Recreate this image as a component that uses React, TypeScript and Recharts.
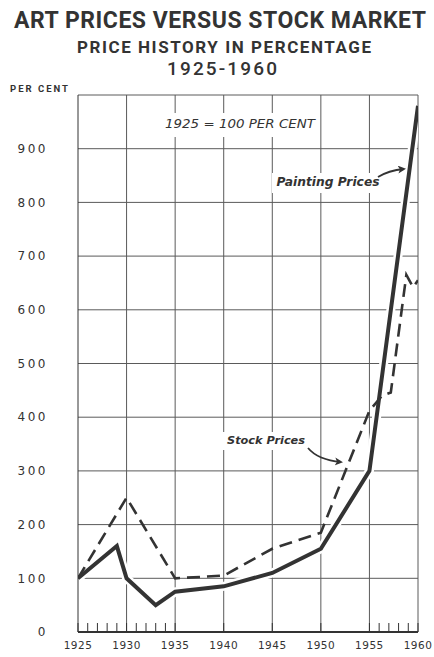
import { CartesianGrid, Line, LineChart, ReferenceLine, XAxis, YAxis } from 'recharts'

const paintingYears = [1925, 1929, 1930, 1933, 1935, 1940, 1945, 1950, 1955, 1960]
const paintingValues = [100, 160, 100, 50, 75, 85, 110, 155, 300, 980]

const stockYears = [1925, 1930, 1935, 1940, 1945, 1950, 1955, 1956.3, 1957.2, 1958.8, 1959.5, 1960]
const stockValues = [100, 250, 100, 105, 155, 185, 412, 440, 446, 665, 642, 655]

const yTicks = [0, 100, 200, 300, 400, 500, 600, 700, 800, 900, 1000]
const xTicks = [
  1925, 1926, 1927, 1928, 1929, 1930, 1931, 1932, 1933, 1934, 1935, 1940, 1945, 1950, 1955, 1956, 1957,
  1958, 1959, 1960,
]
const gridYears = [1930, 1935, 1940, 1945, 1950, 1955, 1960]

const INK = '#333'
const GRID = '#5a5a5a'
const FONT = '"DejaVu Sans", sans-serif'
const TITLE_FONT = 'Roboto, "DejaVu Sans", sans-serif'

const paintingData = paintingYears.map((year, i) => ({ year, value: paintingValues[i] }))
const stockData = stockYears.map((year, i) => ({ year, value: stockValues[i] }))

function Overlay() {
  return (
    <svg
      width={434}
      height={657}
      style={{ position: 'absolute', left: 0, top: 0, pointerEvents: 'none' }}
    >
      <defs>
        <marker id="head" markerWidth="8" markerHeight="8" refX="6" refY="4" orient="auto" markerUnits="userSpaceOnUse">
          <path d="M0,0 L8,4 L0,8 L2,4 Z" fill={INK} />
        </marker>
      </defs>
      <g fontFamily={TITLE_FONT} fill={INK} fontWeight="bold" textAnchor="middle">
        <text x={220} y={28} fontSize={23} textLength={412} lengthAdjust="spacing">
          ART PRICES VERSUS STOCK MARKET
        </text>
        <text x={224} y={53} fontSize={17} textLength={294} lengthAdjust="spacing">
          PRICE HISTORY IN PERCENTAGE
        </text>
        <text x={222} y={75} fontSize={19} fontWeight={500} textLength={110} lengthAdjust="spacing">
          1925-1960
        </text>
        <text x={39} y={92} fontSize={9.5} textLength={58} lengthAdjust="spacing">
          PER CENT
        </text>
      </g>
      <rect x={160} y={113} width={160} height={24} fill="#fff" />
      <rect x={272} y={173} width={112} height={20} fill="#fff" />
      <rect x={222} y={432} width={88} height={18} fill="#fff" />
      <g fontFamily={FONT} fill={INK} fontStyle="italic" textAnchor="middle">
        <text x={240} y={128} fontSize={12} textLength={150} lengthAdjust="spacingAndGlyphs">
          1925 = 100 PER CENT
        </text>
        <text x={328} y={186} fontSize={12} fontWeight="bold" textLength={103} lengthAdjust="spacingAndGlyphs">
          Painting Prices
        </text>
        <text x={266} y={444} fontSize={11} fontWeight="bold" textLength={78} lengthAdjust="spacingAndGlyphs">
          Stock Prices
        </text>
      </g>
      <path d="M378,177 C386,172 394,170 404,169" stroke={INK} strokeWidth={1.8} fill="none" markerEnd="url(#head)" />
      <path d="M308,448 Q318,460 341,462" stroke={INK} strokeWidth={1.8} fill="none" markerEnd="url(#head)" />
    </svg>
  )
}

export default function App() {
  return (
    <div style={{ position: 'absolute', left: 0, top: 0, width: 434, height: 657, background: '#fff' }}>
      <LineChart width={434} height={657} margin={{ top: 95, right: 16, bottom: 0, left: 0 }}>
        <CartesianGrid vertical={false} stroke={GRID} strokeWidth={1} />
        <XAxis
          dataKey="year"
          type="number"
          domain={[1925, 1960]}
          ticks={xTicks}
          interval={0}
          allowDataOverflow
          height={25}
          tickSize={-9}
          tickMargin={19}
          tickLine={{ stroke: INK, strokeWidth: 1 }}
          axisLine={{ stroke: INK, strokeWidth: 2 }}
          tickFormatter={(v: number) => (v % 5 === 0 ? String(v) : '')}
          tick={{ fontSize: 10.5, fill: INK, fontFamily: FONT, letterSpacing: 0.5 }}
        />
        <YAxis
          type="number"
          domain={[0, 1000]}
          ticks={yTicks}
          interval={0}
          width={78}
          tickLine={false}
          tickMargin={16}
          axisLine={{ stroke: INK, strokeWidth: 1 }}
          tickFormatter={(v: number) => (v === 1000 ? '' : String(v))}
          tick={{ fontSize: 12, fill: INK, fontFamily: FONT, letterSpacing: 2.5, dx: -8 }}
        />
        {gridYears.map((year) => (
          <ReferenceLine key={year} x={year} stroke={GRID} strokeWidth={1} />
        ))}
        <Line
          data={paintingData}
          dataKey="value"
          type="linear"
          stroke="#fff"
          strokeWidth={9}
          dot={false}
          legendType="none"
          isAnimationActive={false}
        />
        <Line
          data={stockData}
          dataKey="value"
          name="Stock Prices"
          type="linear"
          stroke={INK}
          strokeWidth={2.6}
          strokeDasharray="13 7"
          dot={false}
          isAnimationActive={false}
        />
        <Line
          data={paintingData}
          dataKey="value"
          name="Painting Prices"
          type="linear"
          stroke={INK}
          strokeWidth={4}
          strokeLinejoin="miter"
          dot={false}
          isAnimationActive={false}
        />
      </LineChart>
      <Overlay />
    </div>
  )
}
